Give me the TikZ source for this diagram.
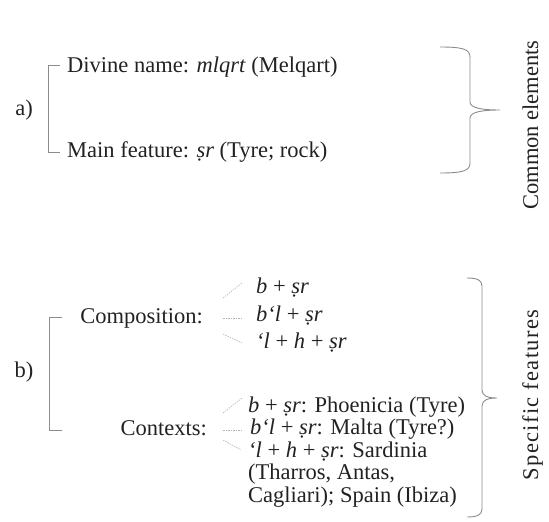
\documentclass[tikz,border=0pt]{standalone}
\usepackage{fontspec}
\setmainfont{Liberation Serif}
\definecolor{txtgray}{HTML}{222222}
\definecolor{linegray}{HTML}{8C8C8C}
\definecolor{dashgray}{HTML}{B4B4B4}
\tikzset{
  lbl/.style={inner sep=0pt, text=txtgray, text height=15pt, text depth=5pt,
    font=\fontsize{22.5}{23}\selectfont},
  bracket/.style={draw=linegray, line width=0.9pt},
  twig/.style={draw=dashgray, line width=0.6pt, dash pattern=on 1.5pt off 1pt},
  sidelbl/.style={lbl, rotate=90}
}
\begin{document}
\begin{tikzpicture}[x=1pt,y=-1pt]
\useasboundingbox (0,0) rectangle (549,522);

% a) common elements
\node[lbl] (a) at (24,110) {a)};
\draw[bracket] (60,65) -- (48,65) -- (48,152) -- (60,152);
\node[lbl, anchor=west] (divine) at (67,67) {Divine name: \textit{mlqrt} (Melqart)};
\node[lbl, anchor=west] (mainf) at (67,152) {Main feature: \textit{ṣr} (Tyre; rock)};
\draw[bracket] (440,47) .. controls (462,47) and (470,49) .. (470,57) -- (470,102)
  .. controls (470,108) and (482,110) .. (500,110)
  .. controls (482,110) and (470,112) .. (470,118) -- (470,163)
  .. controls (470,171) and (462,173) .. (440,173);
\node[sidelbl] (common) at (533,125) {Common elements};

% b) specific features
\node[lbl] (b) at (24,372) {b)};
\draw[bracket] (62,317) -- (49,317) -- (49,430) -- (62,430);
\node[lbl, anchor=east] (compo) at (203,318) {Composition:};
\node[lbl, anchor=east] (ctx) at (207,430) {Contexts:};

\draw[twig] (223,298) -- (242,283);
\draw[twig] (223,318) -- (243,318);
\draw[twig] (223,334) -- (242,343);
\node[lbl, anchor=west] (comp1) at (256,288) {\textit{b} + \textit{ṣr}};
\node[lbl, anchor=west] (comp2) at (256,316) {\textit{b‘l} + \textit{ṣr}};
\node[lbl, anchor=west] (comp3) at (256,343) {\textit{‘l} + \textit{h} + \textit{ṣr}};

\draw[twig] (223,413) -- (242,398);
\draw[twig] (223,430) -- (243,430);
\draw[twig] (223,440) -- (241,450);
\node[lbl, anchor=west] (ctx1) at (248,407) {\textit{b} + \textit{ṣr}: Phoenicia (Tyre)};
\node[lbl, anchor=west] (ctx2) at (250,429) {\textit{b‘l} + \textit{ṣr}: Malta (Tyre?)};
\node[lbl, anchor=west] (ctx3) at (248,452) {\textit{‘l} + \textit{h} + \textit{ṣr}: Sardinia};
\node[lbl, anchor=west] (ctx4) at (248,474) {(Tharros, Antas,};
\node[lbl, anchor=west] (ctx5) at (248,497) {Cagliari); Spain (Ibiza)};

\draw[bracket] (467,278) .. controls (477,278) and (482,280) .. (482,286) -- (482,390)
  .. controls (482,396) and (488,398) .. (497,398)
  .. controls (488,398) and (482,400) .. (482,406) -- (482,509)
  .. controls (482,515) and (477,517) .. (467,517);
\node[sidelbl, font=\fontsize{22.5}{23}\selectfont\addfontfeatures{LetterSpace=6}]
  (specific) at (533,395) {Specific features};
\end{tikzpicture}
\end{document}
